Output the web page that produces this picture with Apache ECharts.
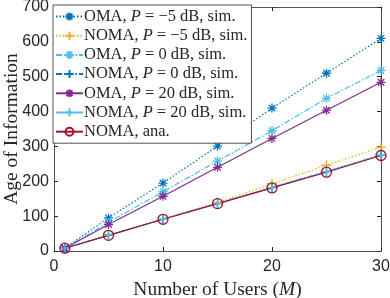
<!DOCTYPE html>
<html><head><meta charset="utf-8">
<script src="https://cdn.jsdelivr.net/npm/echarts@6/dist/echarts.min.js"></script>
<style>html,body{margin:0;padding:0;background:#fff}#c{width:390px;height:298px}</style>
</head><body><div id="c"></div>
<script>
const users = [1, 5, 10, 15, 20, 25, 30];
const omaM5 = [8, 95, 195, 301, 410, 510, 610];
const nomaM5 = [8, 46, 92, 139, 193, 246, 298];
const oma0 = [8, 82, 170, 258, 345, 438, 518];
const noma0 = [8, 45, 91, 136, 182, 228, 275];
const oma20 = [8, 76, 157, 240, 323, 404, 484];
const noma20 = [8, 45, 91, 136, 182, 228, 275];
const nomaAna = [8, 45, 91, 136, 181, 226, 274];
const xTicks = [0, 10, 20, 30];
const yTicks = [0, 100, 200, 300, 400, 500, 600, 700];

const STAR = 'path://M0,-1L0,1M-1,0L1,0M-0.72,-0.72L0.72,0.72M-0.72,0.72L0.72,-0.72';
const PLUS = 'path://M0,-1L0,1M-1,0L1,0';
const serif = '"Liberation Serif"';
const sans = '"Liberation Sans"';

function pairs(ys){ return users.map((x,i)=>[x, ys[i]]); }
function mk(name, ys, color, dash, symbol, size){
  return {
    name, type:'line', data: pairs(ys), symbol, symbolSize: size,
    lineStyle:{color, width:1.2, type:dash},
    itemStyle:{color:'rgba(255,255,255,0)', borderColor:color, borderWidth:1.3, borderType:'solid'},
    emphasis:{disabled:true}, animation:false, showSymbol:true
  };
}
const series = [
  mk('OMA, P = −5 dB, sim.', omaM5, '#0072BD', [1.5,2], STAR, 9),
  mk('NOMA, P = −5 dB, sim.', nomaM5, '#EDB120', [1.5,2], PLUS, 10),
  mk('OMA, P = 0 dB, sim.', oma0, '#4DBEEE', [6,2,1.5,2], STAR, 9),
  mk('NOMA, P = 0 dB, sim.', noma0, '#0072BD', [6,2,1.5,2], PLUS, 10),
  mk('OMA, P = 20 dB, sim.', oma20, '#7E2F8E', 'solid', STAR, 9),
  mk('NOMA, P = 20 dB, sim.', noma20, '#4DBEEE', 'solid', PLUS, 10),
  mk('NOMA, ana.', nomaAna, '#A2142F', 'solid', 'circle', 10)
];

const axisCol = '#262626';
const tickFont = 16, titleFont = 19.5, legFont = 16.5;
const chart = echarts.init(document.getElementById('c'), null, {renderer:'canvas'});
chart.setOption({
  backgroundColor:'#fff',
  animation:false,
  grid:{left:54, right:9, top:7, bottom:47, containLabel:false, outerBoundsMode:'none'},
  xAxis:[{
    type:'value', min:0, max:30, interval:10,
    name:'{n|Number of Users (}{i|M}{n|)}', nameLocation:'middle', nameGap:29, nameMoveOverlap:false,
    nameTextStyle:{fontFamily:serif, fontSize:titleFont, color:axisCol,
      rich:{n:{fontFamily:serif,fontSize:titleFont,color:axisCol},
            i:{fontFamily:serif,fontSize:titleFont,fontStyle:'italic',color:axisCol}}},
    axisLine:{show:true, onZero:false, lineStyle:{color:axisCol, width:0.8}},
    axisTick:{show:true, inside:true, length:4, lineStyle:{color:axisCol}},
    axisLabel:{fontFamily:sans, fontSize:tickFont, color:axisCol, margin:8,
      formatter:v=>xTicks.includes(v)?String(v):''},
    splitLine:{show:false}
  },{
    type:'value', position:'top', min:0, max:30, interval:10,
    axisLine:{show:true, onZero:false, lineStyle:{color:axisCol, width:0.8}},
    axisTick:{show:true, inside:true, length:4, lineStyle:{color:axisCol}},
    axisLabel:{show:false}, splitLine:{show:false}
  }],
  yAxis:[{
    type:'value', min:0, max:700, interval:100,
    name:'Age of Information', nameLocation:'middle', nameGap:32, nameMoveOverlap:false,
    nameTextStyle:{fontFamily:serif, fontSize:titleFont, color:axisCol},
    axisLine:{show:true, onZero:false, lineStyle:{color:axisCol, width:0.8}},
    axisTick:{show:true, inside:true, length:4, lineStyle:{color:axisCol}},
    axisLabel:{fontFamily:sans, fontSize:tickFont, color:axisCol, margin:5,
      formatter:v=>yTicks.includes(v)?String(v):''},
    splitLine:{show:false}
  },{
    type:'value', position:'right', min:0, max:700, interval:100,
    axisLine:{show:true, onZero:false, lineStyle:{color:axisCol, width:0.8}},
    axisTick:{show:true, inside:true, length:4, lineStyle:{color:axisCol}},
    axisLabel:{show:false}, splitLine:{show:false}
  }],
  legend:{
    left:53, top:5, orient:'vertical', itemWidth:27, itemHeight:10, itemGap:2.2,
    padding:[3,4,3,2],
    backgroundColor:'#fff', borderColor:axisCol, borderWidth:0.8,
    selectedMode:false,
    textStyle:{fontFamily:serif, fontSize:legFont, color:axisCol, padding:[0,0,0,-4],
      rich:{n:{fontFamily:serif, fontSize:legFont, color:axisCol},
            i:{fontFamily:serif, fontSize:legFont, fontStyle:'italic', color:axisCol}}},
    formatter:function(name){
      const k = name.indexOf('P =');
      if(k<0) return '{n|'+name+'}';
      return '{n|'+name.slice(0,k)+'}{i|P}{n|'+name.slice(k+1)+'}';
    },
    data: series.map(s=>s.name)
  },
  series
});
</script>
</body></html>
